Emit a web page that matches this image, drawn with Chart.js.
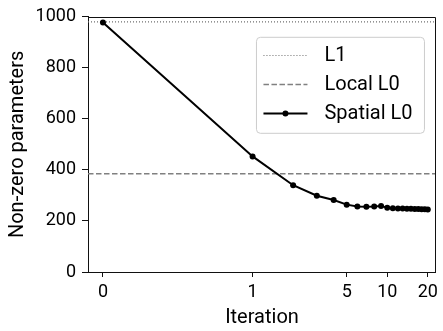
<!DOCTYPE html>
<html>
<head>
<meta charset="utf-8">
<script src="https://cdn.jsdelivr.net/npm/chart.js@4/dist/chart.umd.min.js"></script>
<style>
  html, body { margin: 0; padding: 0; background: #fff; }
  #wrap { width: 443px; height: 331px; }
</style>
</head>
<body>
<div id="wrap"><canvas id="c" width="443" height="331"></canvas></div>
<script>
// Iterations and number of non-zero parameters per method
const ITERATIONS = [0, 1, 2, 3, 4, 5, 6, 7, 8, 9, 10, 11, 12, 13, 14, 15, 16, 17, 18, 19, 20];
const SPATIAL_L0 = [978, 453, 340, 299, 282, 264, 257, 256, 257, 259, 252, 250, 249, 249, 248, 248, 247, 247, 246, 246, 245];
const L1_LEVEL = 980;
const LOCAL_L0_LEVEL = 385;

// Axis ticks and limits
const X_TICKS = [0, 1, 5, 10, 20];
const Y_TICKS = [0, 200, 400, 600, 800, 1000];
const X_MIN = -0.1, X_MAX = 23;
const Y_MIN = 0, Y_MAX = 1000;

const LEGEND_LABELS = ['L1', 'Local L0', 'Spatial L0'];

const FONT = 'Roboto, "DejaVu Sans", sans-serif';

// Symmetric log transform: linear in [-1, 1], log10 outside
const LIN_THRESH = 1;
const LIN_SCALE = 1 / (1 - 1 / 10);
function symlog(v) {
  const a = Math.abs(v);
  if (a <= LIN_THRESH) return v * LIN_SCALE;
  return Math.sign(v) * (LIN_SCALE + Math.log10(a / LIN_THRESH));
}
function symexp(t) {
  const a = Math.abs(t);
  if (a <= LIN_SCALE) return t / LIN_SCALE;
  return Math.sign(t) * LIN_THRESH * Math.pow(10, a - LIN_SCALE);
}

class SymlogScale extends Chart.LinearScale {
  buildTicks() {
    return X_TICKS.filter(v => v >= this.min && v <= this.max).map(v => ({ value: v }));
  }
  configure() {
    super.configure();
    this._tMin = symlog(this.min);
    this._tRange = symlog(this.max) - this._tMin;
  }
  getPixelForValue(value) {
    return this.getPixelForDecimal((symlog(value) - this._tMin) / this._tRange);
  }
  getValueForPixel(pixel) {
    return symexp(this.getDecimalForPixel(pixel) * this._tRange + this._tMin);
  }
}
SymlogScale.id = 'symlog';
SymlogScale.defaults = Chart.LinearScale.defaults;
Chart.register(SymlogScale);

const spatialData = ITERATIONS.map((x, i) => ({ x, y: SPATIAL_L0[i] }));
const levelLine = (y) => [{ x: X_MIN, y }, { x: X_MAX, y }];

// Closes the axes box on the top and right sides
const framePlugin = {
  id: 'frame',
  afterDatasetsDraw(chart) {
    const { ctx, chartArea: a } = chart;
    ctx.save();
    ctx.strokeStyle = '#111';
    ctx.lineWidth = 1;
    ctx.beginPath();
    ctx.moveTo(Math.round(a.left) + 0.5, Math.round(a.top) + 0.5);
    ctx.lineTo(Math.round(a.right) - 0.5, Math.round(a.top) + 0.5);
    ctx.lineTo(Math.round(a.right) - 0.5, Math.round(a.bottom) + 0.5);
    ctx.stroke();
    ctx.restore();
  }
};

// Legend box in the upper right of the plot
const legendPlugin = {
  id: 'boxLegend',
  afterDraw(chart) {
    const { ctx, chartArea: a } = chart;
    const bx = a.right - 179.5, by = a.top + 20.5, bw = 168, bh = 96;
    ctx.save();
    ctx.beginPath();
    ctx.roundRect(bx, by, bw, bh, 4);
    ctx.fillStyle = 'rgba(255,255,255,0.8)';
    ctx.fill();
    ctx.strokeStyle = '#cccccc';
    ctx.lineWidth = 1;
    ctx.stroke();

    const x0 = bx + 7, x1 = bx + 51, tx = bx + 68;
    const rows = [by + 18, by + 47, by + 76];
    const styles = [
      { color: '#707070', width: 1.2, dash: [1, 2] },
      { color: '#808080', width: 1.5, dash: [5.5, 2.5] },
      { color: '#000000', width: 2, dash: [], point: true }
    ];
    ctx.font = '20px ' + FONT;
    ctx.textBaseline = 'middle';
    ctx.textAlign = 'left';
    rows.forEach((ry, i) => {
      const s = styles[i];
      ctx.beginPath();
      ctx.setLineDash(s.dash);
      ctx.strokeStyle = s.color;
      ctx.lineWidth = s.width;
      ctx.moveTo(x0, Math.round(ry) + 0.5);
      ctx.lineTo(x1, Math.round(ry) + 0.5);
      ctx.stroke();
      ctx.setLineDash([]);
      if (s.point) {
        ctx.beginPath();
        ctx.arc((x0 + x1) / 2, Math.round(ry) + 0.5, 3, 0, Math.PI * 2);
        ctx.fillStyle = s.color;
        ctx.fill();
      }
      ctx.fillStyle = '#000';
      ctx.fillText(LEGEND_LABELS[i], tx, ry + 1);
    });
    ctx.restore();
  }
};

new Chart(document.getElementById('c'), {
  type: 'line',
  data: {
    datasets: [
      {
        label: LEGEND_LABELS[0],
        data: levelLine(L1_LEVEL),
        borderColor: '#707070',
        borderWidth: 1.2,
        borderDash: [1, 2],
        pointRadius: 0,
        order: 3
      },
      {
        label: LEGEND_LABELS[1],
        data: levelLine(LOCAL_L0_LEVEL),
        borderColor: '#808080',
        borderWidth: 1.5,
        borderDash: [5.5, 2.5],
        pointRadius: 0,
        order: 2
      },
      {
        label: LEGEND_LABELS[2],
        data: spatialData,
        borderColor: '#000',
        backgroundColor: '#000',
        borderWidth: 2,
        pointRadius: 3,
        pointBorderWidth: 0,
        pointBackgroundColor: '#000',
        tension: 0,
        clip: false,
        order: 1
      }
    ]
  },
  options: {
    responsive: false,
    animation: false,
    events: [],
    layout: { padding: { left: 0, right: 2, top: 12, bottom: 0 } },
    plugins: {
      legend: { display: false },
      tooltip: { enabled: false }
    },
    scales: {
      x: {
        type: 'symlog',
        min: X_MIN,
        max: X_MAX,
        border: { display: true, color: '#111', width: 1 },
        grid: { drawOnChartArea: false, drawTicks: true, tickLength: 5, tickColor: '#111', tickWidth: 1 },
        ticks: {
          autoSkip: false,
          maxRotation: 0,
          padding: 5,
          color: '#000',
          font: { family: FONT, size: 18 },
          callback: (v) => String(v)
        },
        title: {
          display: true,
          text: 'Iteration',
          color: '#000',
          font: { family: FONT, size: 20 },
          padding: { top: 0, bottom: 1 }
        },
        afterFit(scale) { scale.height = 59; }
      },
      y: {
        type: 'linear',
        min: Y_MIN,
        max: Y_MAX,
        afterBuildTicks(scale) { scale.ticks = Y_TICKS.map(v => ({ value: v })); },
        border: { display: true, color: '#111', width: 1 },
        grid: { drawOnChartArea: false, drawTicks: true, tickLength: 6, tickColor: '#111', tickWidth: 1 },
        ticks: {
          padding: 6,
          color: '#000',
          font: { family: FONT, size: 18 },
          callback: (v) => String(v)
        },
        title: {
          display: true,
          text: 'Non-zero parameters',
          color: '#000',
          font: { family: FONT, size: 20 },
          padding: { top: 6, bottom: 0 }
        },
        afterFit(scale) { scale.width = 88; }
      }
    }
  },
  plugins: [framePlugin, legendPlugin]
});
</script>
</body>
</html>
